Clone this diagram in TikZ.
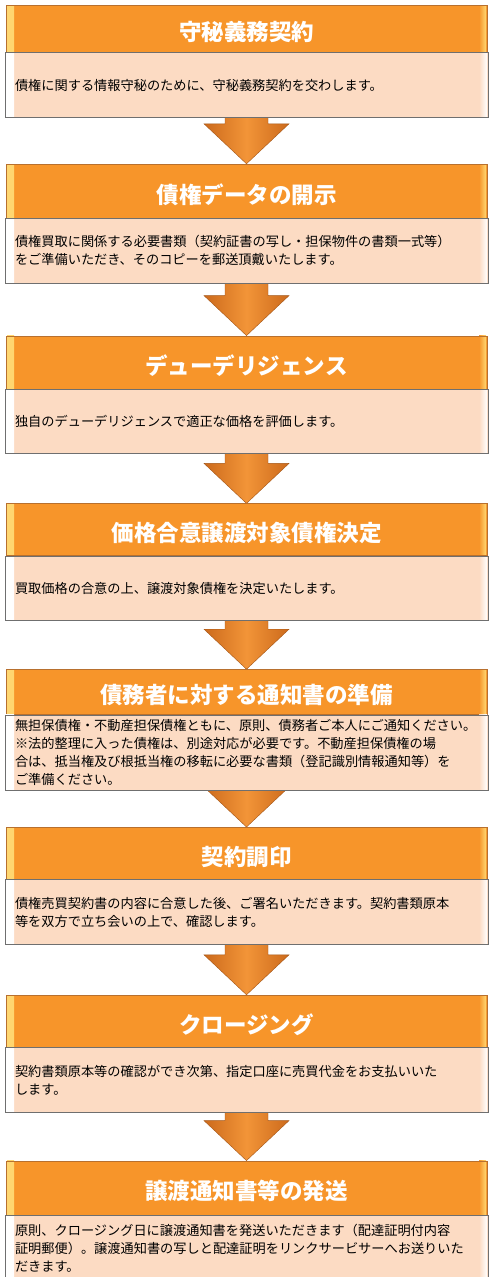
\documentclass[tikz,border=0pt]{standalone}
\usepackage{fontspec}
\newfontfamily\cjk{Noto Sans CJK JP}
\usetikzlibrary{positioning, calc, backgrounds}

\definecolor{hdrorange}{HTML}{F7952A}
\definecolor{hdredge}{HTML}{FFD771}
\definecolor{hdrline}{HTML}{B8702E}
\definecolor{notepeach}{HTML}{FCDBC3}
\definecolor{noteline}{HTML}{6F6F6F}
\definecolor{arrowlight}{HTML}{F29538}
\definecolor{arrowdark}{HTML}{CC6A1C}

\tikzset{
	stephead/.style={draw=hdrline, fill=hdrorange, minimum width=481pt,
		inner sep=0pt, text=white,
		font=\cjk\bfseries\fontsize{22.5}{26}\selectfont,
		text height=26pt, text depth=2pt,
		path picture={
			\shade[left color=hdredge, right color=hdrorange]
				([xshift=1pt]path picture bounding box.south west) rectangle
				([xshift=8pt]path picture bounding box.north west);
			\shade[left color=hdrorange, right color=hdredge]
				([xshift=-8pt]path picture bounding box.south east) rectangle
				([xshift=-1pt]path picture bounding box.north east);}},
	stepnote/.style={draw=noteline, fill=notepeach, minimum width=483pt,
		text width=463pt, inner xsep=10pt, inner ysep=0pt, align=left,
		font=\cjk\fontsize{13.2}{18}\selectfont,
		path picture={
			\shade[left color=white, right color=notepeach]
				([xshift=1pt]path picture bounding box.south west) rectangle
				([xshift=9pt]path picture bounding box.north west);
			\shade[left color=notepeach, right color=white]
				([xshift=-9pt]path picture bounding box.south east) rectangle
				([xshift=-1pt]path picture bounding box.north east);}},
	blockarrow/.style={left color=arrowdark, right color=arrowdark,
		middle color=arrowlight, draw=arrowdark!80!black, line width=0.4pt}
}

\begin{document}
\begin{tikzpicture}[x=1pt, y=-1pt]
\useasboundingbox (0,0) rectangle (495,1277);

% Add the steps
\node[stephead, minimum height=47pt, anchor=north] (h1) at (246.5,5) {守秘義務契約};
\node[stepnote, minimum height=65pt, below=0pt of h1] (b1)
	{債権に関する情報守秘のために、守秘義務契約を交わします。};

\node[stephead, minimum height=54pt, below=46pt of b1] (h2) {債権データの開示};
\node[stepnote, minimum height=65pt, below=0pt of h2] (b2)
	{債権買取に関係する必要書類（契約証書の写し・担保物件の書類一式等）\\
	 をご準備いただき、そのコピーを郵送頂戴いたします。};

\node[stephead, minimum height=53pt, below=52pt of b2] (h3) {デューデリジェンス};
\node[stepnote, minimum height=64pt, below=0pt of h3] (b3)
	{独自のデューデリジェンスで適正な価格を評価します。};

\node[stephead, minimum height=52pt, below=50pt of b3] (h4) {価格合意譲渡対象債権決定};
\node[stepnote, minimum height=64pt, below=0pt of h4] (b4)
	{買取価格の合意の上、譲渡対象債権を決定いたします。};

\node[stephead, minimum height=45pt, below=49pt of b4] (h5) {債務者に対する通知書の準備};
\node[stepnote, minimum height=75pt, below=0pt of h5] (b5)
	{無担保債権・不動産担保債権ともに、原則、債務者ご本人にご通知ください。\\
	 ※法的整理に入った債権は、別途対応が必要です。不動産担保債権の場\\
	 合は、抵当権及び根抵当権の移転に必要な書類（登記識別情報通知等）を\\
	 ご準備ください。};

\node[stephead, minimum height=52pt, below=37pt of b5] (h6) {契約調印};
\node[stepnote, minimum height=65pt, below=0pt of h6] (b6)
	{債権売買契約書の内容に合意した後、ご署名いただきます。契約書類原本\\
	 等を双方で立ち会いの上で、確認します。};

\node[stephead, minimum height=52pt, below=50pt of b6] (h7) {クロージング};
\node[stepnote, minimum height=65pt, below=0pt of h7] (b7)
	{契約書類原本等の確認ができ次第、指定口座に売買代金をお支払いいた\\
	 します。};

\node[stephead, minimum height=54pt, below=48pt of b7] (h8) {譲渡通知書等の発送};
\node[stepnote, minimum height=66pt, below=0pt of h8] (b8)
	{原則、クロージング日に譲渡通知書を発送いただきます（配達証明付内容\\
	 証明郵便）。譲渡通知書の写しと配達証明をリンクサービサーへお送りいた\\
	 だきます。};

% Arrows between the steps
\begin{pgfonlayer}{background}
\foreach \a/\b in {b1/h2, b2/h3, b3/h4, b4/h5, b5/h6, b6/h7, b7/h8}
	\shade[blockarrow] ($(\a.south)+(-21.5,-12)$) -- ($(\b.north)+(-21.5,-40)$)
		-- ($(\b.north)+(-42.5,-40)$) -- (\b.north) -- ($(\b.north)+(42.5,-40)$)
		-- ($(\b.north)+(21.5,-40)$) -- ($(\a.south)+(21.5,-12)$) -- cycle;
\end{pgfonlayer}
\end{tikzpicture}
\end{document}
